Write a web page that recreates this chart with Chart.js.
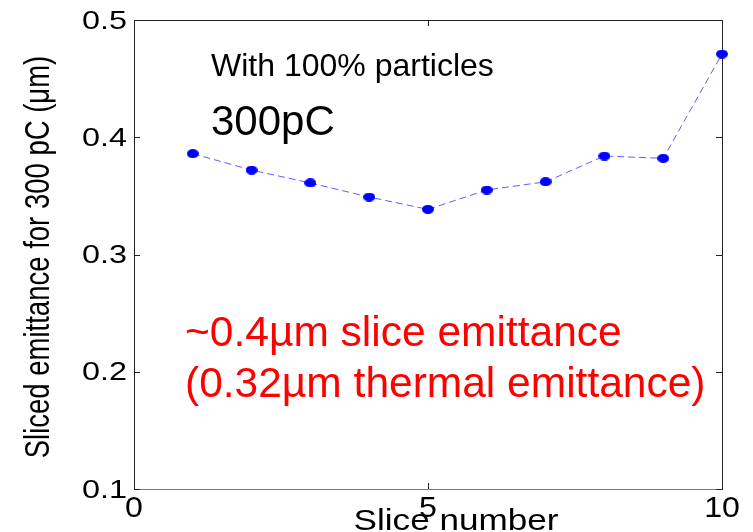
<!DOCTYPE html>
<html>
<head>
<meta charset="utf-8">
<script src="https://cdn.jsdelivr.net/npm/chart.js@4"></script>
<style>
  body { margin: 0; background: #fff; }
  canvas { display: block; }
</style>
</head>
<body>
<canvas id="myChart" width="753" height="532"></canvas>
<script>
'use strict';
// values
let sliceNumbers = [1, 2, 3, 4, 5, 6, 7, 8, 9, 10]
let emittance = [0.386, 0.372, 0.361, 0.349, 0.3385, 0.355, 0.362, 0.384, 0.382, 0.471]
let xTicks = [0, 5, 10]
let xTickLabels = ['0', '5', '10']
let yTicks = [0.1, 0.2, 0.3, 0.4, 0.5]
let yTickLabels = ['0.1', '0.2', '0.3', '0.4', '0.5']

const FONT = "'Liberation Sans', Arial, sans-serif"

// the matlab figure was stretched sideways, so axis text gets squashed wider
function wideText(ctx, text, x, y, sx, align){
  ctx.save()
  ctx.translate(x, y)
  ctx.scale(sx, 1)
  ctx.textAlign = align
  ctx.textBaseline = 'alphabetic'
  ctx.fillText(text, 0, 0)
  ctx.restore()
}

// oval marker
let dot = document.createElement('canvas')
dot.width = 12
dot.height = 9
let dctx = dot.getContext('2d')
dctx.fillStyle = '#0000ff'
dctx.beginPath()
dctx.ellipse(6, 4.5, 6, 4.5, 0, 0, Math.PI * 2)
dctx.fill()

const boxPlugin = {
  id: 'box',
  beforeDatasetsDraw(chart){
    const ctx = chart.ctx
    const a = chart.chartArea
    const x = chart.scales.x
    const y = chart.scales.y
    ctx.save()
    ctx.lineWidth = 1
    ctx.strokeStyle = '#222'
    ctx.beginPath()
    ctx.moveTo(a.left + 0.5, a.bottom + 0.5)
    ctx.lineTo(a.left + 0.5, a.top + 0.5)
    ctx.lineTo(a.right + 0.5, a.top + 0.5)
    ctx.lineTo(a.right + 0.5, a.bottom + 0.5)
    ctx.stroke()
    ctx.strokeStyle = '#777'
    ctx.beginPath()
    ctx.moveTo(a.left, a.bottom + 0.5)
    ctx.lineTo(a.right + 1, a.bottom + 0.5)
    ctx.stroke()
    // inward ticks
    ctx.strokeStyle = '#222'
    ctx.beginPath()
    for(let i = 0; i < yTicks.length; i++){
      let py = Math.round(y.getPixelForValue(yTicks[i])) + 0.5
      ctx.moveTo(a.left, py)
      ctx.lineTo(a.left + 6, py)
      ctx.moveTo(a.right + 1, py)
      ctx.lineTo(a.right - 6, py)
    }
    for(let i = 0; i < xTicks.length; i++){
      let px = Math.round(x.getPixelForValue(xTicks[i])) + 0.5
      ctx.moveTo(px, a.bottom)
      ctx.lineTo(px, a.bottom - 6)
      ctx.moveTo(px, a.top)
      ctx.lineTo(px, a.top + 6)
    }
    ctx.stroke()
    ctx.restore()
  },
  afterDraw(chart){
    const ctx = chart.ctx
    const x = chart.scales.x
    const y = chart.scales.y
    ctx.save()
    ctx.fillStyle = '#000'
    ctx.font = '25.5px ' + FONT
    for(let i = 0; i < yTicks.length; i++){
      wideText(ctx, yTickLabels[i], 127, y.getPixelForValue(yTicks[i]) + 8.5, 1.27, 'right')
    }
    ctx.font = '30px ' + FONT
    for(let i = 0; i < xTicks.length; i++){
      wideText(ctx, xTickLabels[i], x.getPixelForValue(xTicks[i]), 517, 1.07, 'center')
    }
    wideText(ctx, 'Slice number', 456, 530, 1.17, 'center')

    // y title, rotated
    ctx.save()
    ctx.font = '27.5px ' + FONT
    ctx.translate(49, 257)
    ctx.scale(1.3, 1)
    ctx.rotate(-Math.PI / 2)
    ctx.textAlign = 'center'
    ctx.textBaseline = 'alphabetic'
    ctx.fillText('Sliced emittance for 300 pC (\u03bcm)', 0, 0)
    ctx.restore()

    // notes pasted on the slide
    ctx.textAlign = 'left'
    ctx.textBaseline = 'alphabetic'
    ctx.font = '32px ' + FONT
    ctx.fillText('With 100% particles', 211, 76)
    ctx.font = '42px ' + FONT
    ctx.fillText('300pC', 211, 135)
    ctx.fillStyle = '#ff0000'
    ctx.font = '42.5px ' + FONT
    ctx.fillText('~0.4\u00b5m slice emittance', 185, 346)
    ctx.fillText('(0.32\u00b5m thermal emittance)', 185, 397)
    ctx.restore()
  }
}

let points = []
for(let i = 0; i < sliceNumbers.length; i++){
  points.push({x: sliceNumbers[i], y: emittance[i]})
}

const ctx = document.getElementById('myChart')
const myChart = new Chart(ctx, {
  type: 'line',
  data: {
    datasets: [{
      data: points,
      borderColor: 'rgba(40, 40, 255, 0.75)',
      borderWidth: 1,
      borderDash: [7, 4],
      backgroundColor: '#0000ff',
      pointStyle: dot,
      pointRadius: 6,
      tension: 0,
      clip: false
    }]
  },
  options: {
    responsive: false,
    animation: false,
    events: [],
    layout: { padding: { top: 20, right: 31, left: 0, bottom: 0 } },
    plugins: { legend: { display: false }, tooltip: { enabled: false } },
    scales: {
      x: {
        type: 'linear', min: 0, max: 10,
        ticks: { display: false },
        grid: { display: false },
        border: { display: false },
        afterFit(s){ s.height = 43 }
      },
      y: {
        type: 'linear', min: 0.1, max: 0.5,
        ticks: { display: false },
        grid: { display: false },
        border: { display: false },
        afterFit(s){ s.width = 134 }
      }
    }
  },
  plugins: [boxPlugin]
})
</script>
</body>
</html>
